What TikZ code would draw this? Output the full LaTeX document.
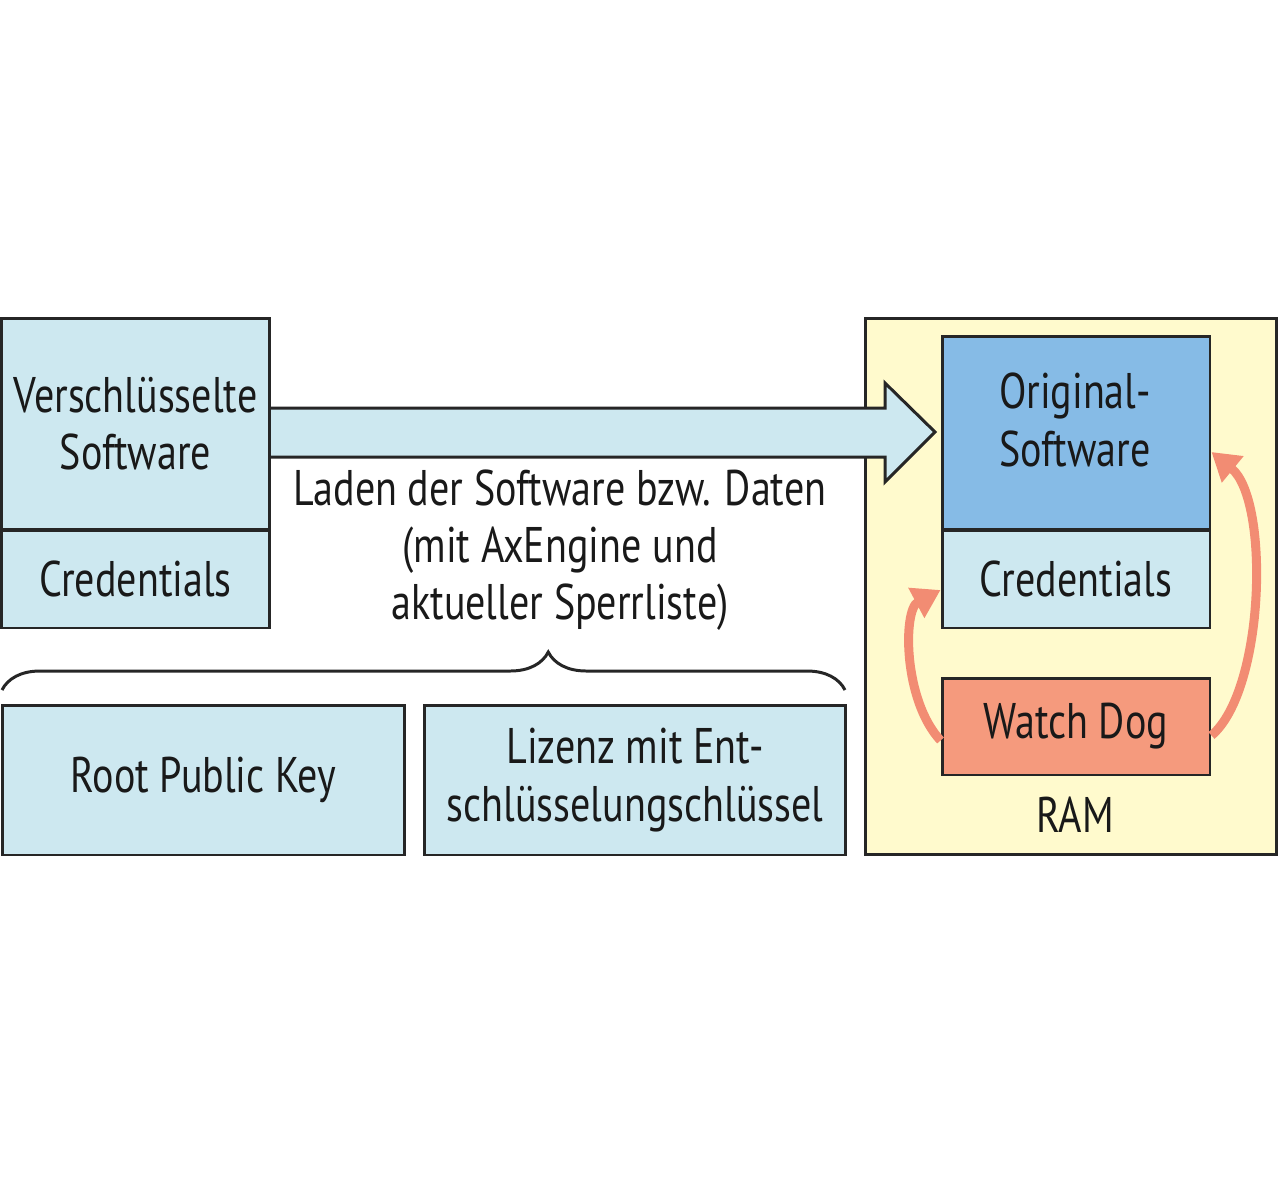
\documentclass[tikz,border=0pt]{standalone}
\usepackage{fontspec}
\setmainfont{PT Sans}[FakeStretch=0.8]
\usetikzlibrary{decorations.pathreplacing,arrows.meta}
\definecolor{boxblue}{RGB}{205,232,240}
\definecolor{softblue}{RGB}{134,187,230}
\definecolor{dogred}{RGB}{245,154,125}
\definecolor{ramyellow}{RGB}{255,250,205}
\definecolor{loopred}{RGB}{242,140,115}
\begin{document}
\begin{tikzpicture}[x=0.02cm,y=-0.02cm,
  txt/.style={text=black!90, align=center, font=\fontsize{28.5}{32.6}\selectfont},
  box/.style={txt, draw=black!85, line width=1.7pt, fill=boxblue, inner sep=0pt},
  loop/.style={loopred, line width=0.18cm, -{Triangle[length=0.55cm,width=0.65cm]}}]
\useasboundingbox (0,0) rectangle (1280,1190);

\node[box, fill=ramyellow, minimum width=8.24cm, minimum height=10.74cm] (ram) at (1071,586.5) {};
\node[txt] (ramlabel) at (1075,815) {RAM};

\draw[line width=1.7pt, draw=black!85, fill=boxblue] (270,408) -- (885,408) -- (885,383) -- (935,432)
  -- (885,482) -- (885,457) -- (270,457);
\node[box, minimum width=5.38cm, minimum height=4.24cm] (vsoft) at (135.5,424) {Verschlüsselte\\Software};
\node[box, minimum width=5.38cm, minimum height=1.96cm] (lcred) at (135.5,579) {Credentials};
\node[txt] (laden) at (560,550) {Laden der Software bzw. Daten\\(mit AxEngine und\\aktueller Sperrliste)};

\draw[line width=1.7pt, draw=black!85, decorate, decoration={brace, amplitude=0.76cm, aspect=0.648}] (2,690) -- (845,690);
\node[box, minimum width=8.06cm, minimum height=3cm] (rootkey) at (203.5,780) {Root Public Key};
\node[box, minimum width=8.44cm, minimum height=3cm] (lizenz) at (635,780) {Lizenz mit Ent-\\schlüsselungschlüssel};

\node[box, fill=softblue, minimum width=5.36cm, minimum height=3.88cm] (orig) at (1076,433) {};
\node[txt] (origtext) at (1075,420) {Original-\\Software};
\node[box, minimum width=5.36cm, minimum height=1.96cm] (rcred) at (1076,579) {Credentials};
\node[box, fill=dogred, minimum width=5.36cm, minimum height=1.94cm] (wdog) at (1076,726.5) {Watch Dog};

\draw[loop] ([yshift=-0.28cm]wdog.west) .. controls (903,700) and (903,610) .. ([yshift=-0.22cm]rcred.west);
\draw[loop] ([yshift=-0.18cm]wdog.east) .. controls (1265,690) and (1270,500) .. ([yshift=-0.38cm]orig.east);

\end{tikzpicture}
\end{document}
